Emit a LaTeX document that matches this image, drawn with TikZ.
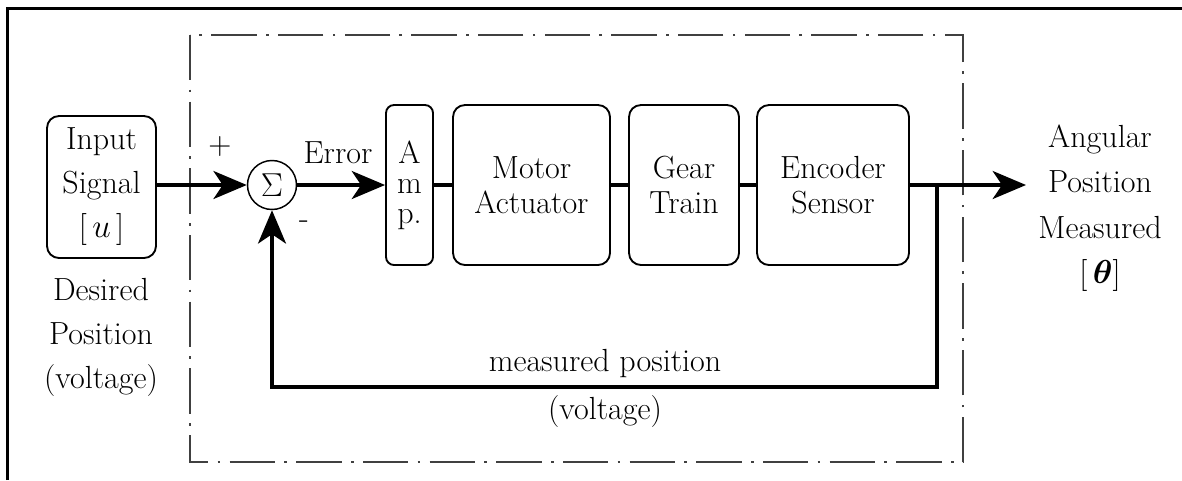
\documentclass[tikz,border=0pt]{standalone}
\usepackage{amsmath}
\usepackage{fontspec}
\setmainfont{Latin Modern Roman}
\usetikzlibrary{arrows.meta}

\tikzset{
  blockbox/.style={draw, line width=1.4pt, rounded corners=9pt, align=center, inner sep=0pt,
    minimum height=160*0.75pt, font=\fontsize{24}{26}\selectfont},
  sigmanode/.style={draw, circle, line width=1.1pt, minimum size=49*0.75pt, inner sep=0pt,
    font=\fontsize{24}{26}\selectfont},
  txt/.style={align=center, inner sep=0pt, font=\fontsize{24}{33}\selectfont},
  sigline/.style={line width=2.6pt},
  sigarrow/.style={line width=2.6pt, -{Stealth[length=25pt, width=21pt, inset=7pt]}},
  loopframe/.style={line width=1.1pt, black!75, dash pattern=on 34pt off 7pt on 2pt off 7pt},
}

\begin{document}
\begin{tikzpicture}[x=0.75pt,y=-0.75pt]
  \useasboundingbox (0,0) rectangle (1182,480);

  % outer frame (top and left edges)
  \draw[line width=2.4pt] (7.3,480) -- (7.3,8.4) -- (1182,8.4);

  % dash-dot boundary of the closed loop
  \draw[loopframe] (190,35) rectangle (963,462);

  % input block and its caption
  \node[blockbox, minimum width=109*0.75pt, minimum height=142*0.75pt,
        font=\fontsize{24}{33}\selectfont] (in) at (101.5,187) {Input\\Signal\\{[}\,$u$\,{]}};
  \node[txt] (desired) at (101,337) {Desired\\Position\\(voltage)};

  % summing junction
  \node[sigmanode] (sum) at (272,185) {$\Sigma$};
  \node[txt] (plus) at (220,147) {+};
  \node[txt] (minus) at (304,225) {-};

  % forward path blocks
  \node[blockbox, minimum width=47*0.75pt, rounded corners=6pt,
        font=\fontsize{24}{22.5}\selectfont] (amp) at (409.5,185) {A\\m\\p.};
  \node[blockbox, minimum width=157*0.75pt] (motor) at (531.5,185) {Motor\\Actuator};
  \node[blockbox, minimum width=110*0.75pt] (gear) at (684,185) {Gear\\Train};
  \node[blockbox, minimum width=152*0.75pt] (enc) at (833,185) {Encoder\\Sensor};

  % output caption
  \node[txt, font=\fontsize{24}{34}\selectfont] (out) at (1100,208)
    {Angular\\Position\\Measured\\{[}\,$\boldsymbol{\theta}${]}};

  % feedback labels
  \node[txt] (fblabel) at (605,364) {measured position};
  \node[txt] (fbvolt) at (605,412) {(voltage)};
  \node[txt] (err) at (338,153) {Error};

  % signal path
  \coordinate (outtip) at (1026,185);
  \coordinate (branch) at (937,185);
  \coordinate (fbcorner) at (937,387);

  \draw[sigarrow] (in.east |- sum.west) -- (sum.west);
  \draw[sigarrow] (sum.east) -- (amp.west);
  \draw[sigline] (amp.east) -- (motor.west);
  \draw[sigline] (motor.east) -- (gear.west);
  \draw[sigline] (gear.east) -- (enc.west);
  \draw[sigarrow] (enc.east) -- (outtip);
  \draw[sigarrow] (branch) -- (fbcorner) -| (sum.south);
\end{tikzpicture}
\end{document}
